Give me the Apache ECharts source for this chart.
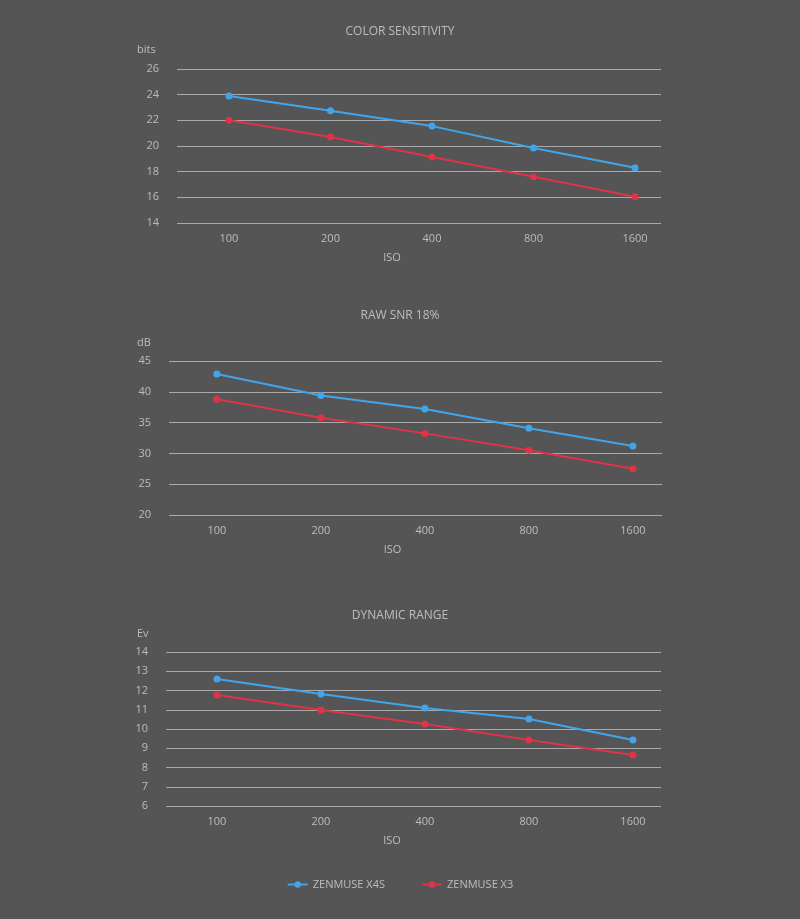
<!DOCTYPE html>
<html>
<head>
<meta charset="utf-8">
<script src="https://cdn.jsdelivr.net/npm/echarts@6/dist/echarts.min.js"></script>
<style>
html,body{margin:0;padding:0;background:#555555;}
#main{width:800px;height:919px;}
</style>
</head>
<body>
<div id="main"></div>
<script>
var isoLabels = ['100', '200', '400', '800', '1600'];
var seriesNames = ['ZENMUSE X4S', 'ZENMUSE X3'];
var colorX4S = [23.9, 22.75, 21.55, 19.85, 18.3];
var colorX3 = [22.0, 20.7, 19.15, 17.6, 16.05];
var snrX4S = [42.9, 39.4, 37.2, 34.1, 31.2];
var snrX3 = [38.8, 35.8, 33.25, 30.5, 27.5];
var drX4S = [12.6, 11.82, 11.09, 10.52, 9.43];
var drX3 = [11.77, 10.99, 10.26, 9.43, 8.65];
var titles = ['COLOR SENSITIVITY', 'RAW SNR 18%', 'DYNAMIC RANGE'];
var units = ['bits', 'dB', 'Ev'];
var yTicks = [[14, 26, 2], [20, 45, 5], [6, 14, 1]];

var FONT = 'Open Sans';
var TXT = '#bdbdbd';
var BLUE = '#42a5ec';
var RED = '#df3447';

function pts(arr) { return arr.map(function (v, i) { return [i, v]; }); }

var grids = [
  {left: 177, right: 139, top: 69, height: 154},
  {left: 169, right: 138, top: 361, height: 154},
  {left: 166, right: 139, top: 652, height: 154}
];
var xRange = [[-0.512, 4.256], [-0.46, 4.28], [-0.49, 4.27]];
var isoPad = [54, 46, 43];
var unitTops = [44, 337, 628];
var titleTops = [21, 305, 605];

var xAxes = [], yAxes = [], series = [], titleArr = [], graphics = [];
var data = [[colorX4S, colorX3], [snrX4S, snrX3], [drX4S, drX3]];
for (var k = 0; k < 3; k++) {
  titleArr.push({text: titles[k], left: 'center', top: titleTops[k],
    textStyle: {color: TXT, fontSize: 12, fontWeight: 'normal', fontFamily: FONT}});
  graphics.push({type: 'text', left: 137, top: unitTops[k],
    style: {text: units[k], fill: TXT, font: '11px "' + FONT + '"'}});
  xAxes.push({
    type: 'value', gridIndex: k, min: xRange[k][0], max: xRange[k][1],
    name: 'ISO', nameLocation: 'middle', nameGap: 29,
    nameTextStyle: {color: TXT, fontSize: 11, fontFamily: FONT, padding: [0, isoPad[k], 0, 0]},
    axisLine: {show: false}, axisTick: {show: false}, splitLine: {show: false},
    axisLabel: {customValues: [0, 1, 2, 3, 4], color: TXT, fontSize: 11, fontFamily: FONT, margin: 10,
      formatter: function (v) { return isoLabels[Math.round(v)]; }}
  });
  yAxes.push({
    type: 'value', gridIndex: k, min: yTicks[k][0], max: yTicks[k][1], interval: yTicks[k][2],
    axisLine: {show: false}, axisTick: {show: false},
    axisLabel: {color: TXT, fontSize: 11, fontFamily: FONT, margin: 18},
    splitLine: {lineStyle: {color: '#a9a9a9', width: 1}}
  });
  for (var s = 0; s < 2; s++) {
    series.push({
      name: seriesNames[s], type: 'line', xAxisIndex: k, yAxisIndex: k,
      data: pts(data[k][s]), symbol: 'circle', symbolSize: 7, showSymbol: true,
      lineStyle: {width: 2, color: s === 0 ? BLUE : RED},
      itemStyle: {color: s === 0 ? BLUE : RED},
      animation: false
    });
  }
}

var chart = echarts.init(document.getElementById('main'));
chart.setOption({
  backgroundColor: '#555555',
  animation: false,
  title: titleArr,
  graphic: graphics,
  legend: {data: seriesNames, bottom: 24, left: 'center', itemGap: 36, itemWidth: 20, itemHeight: 8,
    textStyle: {color: TXT, fontSize: 11, fontFamily: FONT}},
  grid: grids,
  xAxis: xAxes,
  yAxis: yAxes,
  series: series
});
</script>
</body>
</html>
